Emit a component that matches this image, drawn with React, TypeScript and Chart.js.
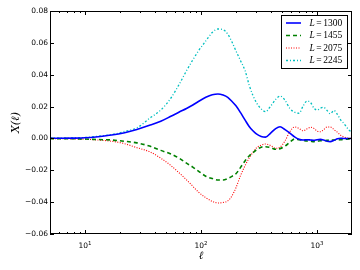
import React, { useEffect, useRef } from 'react';
import { Chart, registerables } from 'chart.js';

Chart.register(...registerables);

// multipole values (x)
const ells = [5, 8, 10, 13, 17, 22, 28, 36, 45, 55, 65, 75, 85, 95, 110, 125, 140, 155, 170, 185, 200, 220, 240, 260, 280, 300, 330, 360, 400, 440, 480, 530, 580, 640, 700, 760, 820, 880, 940, 1000, 1070, 1140, 1220, 1300, 1400, 1500, 1600, 1700, 1800, 1900, 2000];

const seriesL1300 = [0.0001, 0.0002, 0.0004, 0.0011, 0.0021, 0.0036, 0.0056, 0.0082, 0.0108, 0.0139, 0.0166, 0.0188, 0.021, 0.0232, 0.0258, 0.0274, 0.0279, 0.0272, 0.0258, 0.0232, 0.0205, 0.016, 0.0115, 0.0075, 0.0048, 0.0028, 0.0012, 0.0008, 0.0035, 0.0062, 0.0073, 0.0055, 0.0035, 0.001, -0.0005, -0.001, -0.0008, -0.001, -0.0012, -0.0008, -0.0006, -0.001, -0.0018, -0.002, -0.0012, -0.0002, 0.0001, 0, 0, 0, 0];

const seriesL1455 = [-0.0001, -0.0002, -0.0004, -0.0007, -0.001, -0.0018, -0.0028, -0.0048, -0.0075, -0.0098, -0.0125, -0.0155, -0.018, -0.0205, -0.0237, -0.0252, -0.0261, -0.0261, -0.0252, -0.0238, -0.0222, -0.018, -0.014, -0.011, -0.009, -0.0072, -0.0055, -0.0052, -0.0058, -0.0068, -0.0064, -0.0048, -0.0025, -0.0004, -0.0008, -0.0012, -0.0016, -0.0018, -0.002, -0.0018, -0.0015, -0.0015, -0.0012, -0.001, -0.001, -0.001, -0.0008, -0.0006, -0.0005, -0.0004, -0.0003];

const seriesL2075 = [-0.0001, -0.0003, -0.0005, -0.001, -0.0018, -0.0033, -0.0058, -0.0083, -0.0124, -0.017, -0.0217, -0.026, -0.03, -0.0337, -0.0372, -0.0395, -0.0405, -0.0402, -0.0392, -0.036, -0.031, -0.023, -0.017, -0.0123, -0.0088, -0.006, -0.0042, -0.0035, -0.0045, -0.0062, -0.0055, -0.0015, 0.004, 0.0072, 0.0062, 0.0048, 0.006, 0.007, 0.0063, 0.0046, 0.0042, 0.0055, 0.0072, 0.0072, 0.0055, 0.0038, 0.002, 0.001, 0.0004, 0.0001, 0];

const seriesL2245 = [0.0001, 0.0003, 0.0006, 0.0014, 0.0024, 0.0044, 0.0066, 0.0126, 0.0178, 0.0253, 0.0341, 0.0425, 0.0493, 0.0549, 0.0612, 0.0665, 0.0687, 0.0683, 0.0655, 0.0605, 0.055, 0.0485, 0.0425, 0.0335, 0.027, 0.0225, 0.0185, 0.0168, 0.0205, 0.0245, 0.0266, 0.024, 0.019, 0.0165, 0.0158, 0.0205, 0.0235, 0.0225, 0.019, 0.0178, 0.019, 0.0195, 0.0175, 0.0155, 0.0175, 0.015, 0.0115, 0.0095, 0.007, 0.005, 0.004];

const legendValues = ['1300', '1455', '2075', '2245'];
const yTicks = [-0.06, -0.04, -0.02, 0.0, 0.02, 0.04, 0.06, 0.08];
const xMajorTicks = [10, 100, 1000];
const xMajorExponents = ['1', '2', '3'];
const xMinorTicks = [5, 6, 7, 8, 9, 20, 30, 40, 50, 60, 70, 80, 90, 200, 300, 400, 500, 600, 700, 800, 900, 2000];

const framePlugin = {
  id: 'framePlugin',
  afterDraw(chart: any) {
    const ctx = chart.ctx as CanvasRenderingContext2D;
    const { left, right, top, bottom } = chart.chartArea;
    const xs = chart.scales.x;
    const ys = chart.scales.y;
    ctx.save();
    ctx.setLineDash([]);
    ctx.strokeStyle = '#000';
    ctx.lineWidth = 1;
    // frame
    ctx.strokeRect(Math.round(left) + 0.5, Math.round(top) + 0.5, Math.round(right - left) - 1, Math.round(bottom - top) - 1);

    // y ticks + labels
    ctx.font = "7.5px 'DejaVu Sans'";
    ctx.fillStyle = '#000';
    ctx.textAlign = 'right';
    ctx.textBaseline = 'middle';
    yTicks.forEach((v) => {
      const py = Math.round(ys.getPixelForValue(v)) + 0.5;
      ctx.beginPath();
      ctx.moveTo(left, py);
      ctx.lineTo(left + 4, py);
      ctx.moveTo(right, py);
      ctx.lineTo(right - 4, py);
      ctx.stroke();
      const s = v.toFixed(2).replace('-', '\u2212');
      ctx.fillText(s, left - 2, py);
    });

    // x ticks
    const drawXTick = (v: number, len: number) => {
      const px = Math.round(xs.getPixelForValue(v)) + 0.5;
      if (px < left || px > right) return;
      ctx.beginPath();
      ctx.moveTo(px, bottom);
      ctx.lineTo(px, bottom - len);
      ctx.moveTo(px, top);
      ctx.lineTo(px, top + len);
      ctx.stroke();
    };
    xMinorTicks.forEach((v) => drawXTick(v, 2));
    xMajorTicks.forEach((v) => drawXTick(v, 4));

    // x labels with superscripts
    ctx.textAlign = 'left';
    ctx.textBaseline = 'alphabetic';
    xMajorTicks.forEach((v, i) => {
      const px = xs.getPixelForValue(v);
      ctx.font = "7.5px 'DejaVu Sans'";
      const w1 = ctx.measureText('10').width;
      ctx.font = "5.5px 'DejaVu Sans'";
      const w2 = ctx.measureText(xMajorExponents[i]).width;
      const x0 = px - (w1 + w2) / 2;
      ctx.font = "7.5px 'DejaVu Sans'";
      ctx.fillText('10', x0, 248);
      ctx.font = "5.5px 'DejaVu Sans'";
      ctx.fillText(xMajorExponents[i], x0 + w1, 244.5);
    });

    // axis titles
    ctx.font = "italic 11px 'DejaVu Serif'";
    ctx.textAlign = 'center';
    ctx.textBaseline = 'middle';
    ctx.fillText('\u2113', (left + right) / 2, 256);
    ctx.save();
    ctx.translate(16, (top + bottom) / 2);
    ctx.rotate(-Math.PI / 2);
    ctx.font = "italic 11px 'DejaVu Serif'";
    ctx.fillText('X(\u2113)', 0, 0);
    ctx.restore();

    // legend
    const bx = 281.5, by = 15.5, bw = 66, bh = 53;
    ctx.fillStyle = '#fff';
    ctx.fillRect(bx, by, bw, bh);
    ctx.strokeStyle = '#000';
    ctx.lineWidth = 1;
    ctx.strokeRect(bx, by, bw, bh);
    const rows = [23, 35.5, 48, 60.5];
    chart.data.datasets.forEach((ds: any, i: number) => {
      const ry = rows[i];
      ctx.save();
      ctx.strokeStyle = ds.borderColor;
      ctx.lineWidth = ds.borderWidth;
      ctx.setLineDash(ds.borderDash || []);
      ctx.beginPath();
      ctx.moveTo(286, ry);
      ctx.lineTo(301, ry);
      ctx.stroke();
      ctx.restore();
      ctx.fillStyle = '#000';
      ctx.textAlign = 'left';
      ctx.textBaseline = 'middle';
      let tx = 309.5;
      ctx.font = "italic 9.5px 'Liberation Serif'";
      ctx.fillText('L', tx, ry);
      tx += ctx.measureText('L').width + 1.5;
      ctx.font = "9.5px 'Liberation Serif'";
      ctx.fillText('=', tx, ry);
      tx += ctx.measureText('=').width + 1.5;
      ctx.fillText(legendValues[i], tx, ry);
    });
    ctx.restore();
  },
};

export default function App() {
  const ref = useRef<HTMLCanvasElement>(null);
  useEffect(() => {
    document.body.style.margin = '0';
    const mk = (vals: number[]) => ells.map((x, i) => ({ x, y: vals[i] }));
    const common = { pointRadius: 0, fill: false, cubicInterpolationMode: 'monotone' as const };
    const chart = new Chart(ref.current as HTMLCanvasElement, {
      type: 'line',
      data: {
        datasets: [
          { label: 'L=' + legendValues[0], data: mk(seriesL1300), borderColor: '#0000ff', borderWidth: 1.6, ...common },
          { label: 'L=' + legendValues[1], data: mk(seriesL1455), borderColor: '#008000', borderWidth: 1.6, borderDash: [4, 3], ...common },
          { label: 'L=' + legendValues[2], data: mk(seriesL2075), borderColor: '#ff0000', borderWidth: 1.1, borderDash: [1, 1.5], ...common },
          { label: 'L=' + legendValues[3], data: mk(seriesL2245), borderColor: '#00bfbf', borderWidth: 1.3, borderDash: [2, 2, 1, 2], ...common },
        ] as any,
      },
      options: {
        animation: false,
        responsive: false,
        devicePixelRatio: 1,
        layout: { padding: { top: 11, right: 8, left: 0, bottom: 0 } },
        plugins: { legend: { display: false }, tooltip: { enabled: false } },
        scales: {
          x: {
            type: 'logarithmic',
            min: 5,
            max: 2000,
            grid: { display: false },
            border: { display: false },
            ticks: { display: false },
            afterFit: (s: any) => { s.height = 36; },
          },
          y: {
            type: 'linear',
            min: -0.06,
            max: 0.08,
            grid: { display: false },
            border: { display: false },
            ticks: { display: false },
            afterFit: (s: any) => { s.width = 50; },
          },
        },
      } as any,
      plugins: [framePlugin],
    });
    return () => chart.destroy();
  }, []);
  return (
    <div style={{ position: 'absolute', left: 0, top: 0, width: 360, height: 270, background: '#fff' }}>
      <canvas ref={ref} width={360} height={270} style={{ width: 360, height: 270, display: 'block' }} />
    </div>
  );
}
